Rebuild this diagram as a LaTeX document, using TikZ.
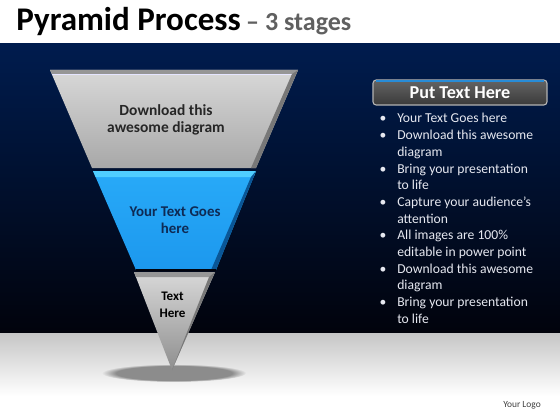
\documentclass[tikz,border=0pt]{standalone}
\usepackage{fontspec}
\setmainfont{Carlito}
\usetikzlibrary{positioning,fadings}

\definecolor{navytop}{RGB}{0,28,78}
\definecolor{navymid}{RGB}{0,19,56}
\definecolor{navybot}{RGB}{1,3,12}
\definecolor{floortop}{RGB}{198,198,198}
\definecolor{greylight}{RGB}{216,216,216}
\definecolor{greydark}{RGB}{168,168,168}
\definecolor{greyside}{RGB}{120,120,120}
\definecolor{greyrim}{RGB}{150,150,150}
\definecolor{bluelight}{RGB}{40,170,248}
\definecolor{bluedark}{RGB}{28,152,238}
\definecolor{blueside}{RGB}{10,86,150}
\definecolor{bluerim}{RGB}{80,206,255}
\definecolor{stagetext}{RGB}{38,38,38}
\definecolor{bluetext}{RGB}{14,42,84}
\definecolor{subgrey}{RGB}{96,96,96}
\definecolor{listwhite}{RGB}{230,232,240}
\definecolor{boxtop}{RGB}{100,100,100}
\definecolor{boxbot}{RGB}{58,58,58}
\definecolor{boxblue}{RGB}{40,140,215}

\tikzset{
    stagelabel/.style={align=center, inner sep=0, text=stagetext, font=\fontsize{11}{12.5}\selectfont\bfseries},
    listline/.style={anchor=base west, inner sep=0, text=listwhite, font=\fontsize{9.7}{11.9}\selectfont},
    listdot/.style={anchor=base, inner sep=0, text=listwhite, font=\fontsize{9.7}{11.9}\selectfont},
}

\begin{document}
\begin{tikzpicture}[x=0.025cm, y=-0.025cm]

    \useasboundingbox (0,0) rectangle (560,420);

    % Background: white title strip, dark blue wall, grey floor
    \fill[white] (0,0) rectangle (560,44);
    \shade[top color=navytop, middle color=navymid, bottom color=navybot] (0,44) rectangle (560,333);
    \shade[top color=floortop, bottom color=white] (0,333) rectangle (560,396);
    \fill[white] (0,395.5) rectangle (560,420);

    % Title
    \node[anchor=base west, inner sep=0, font=\fontsize{23.5}{27}\selectfont\bfseries] (title) at (16,31) {Pyramid Process};
    \node[anchor=base west, inner sep=0, text=subgrey, font=\fontsize{18.5}{21}\selectfont\bfseries] (subtitle) at ([xshift=0.12cm]title.base east) {– 3 stages};

    % Shadow under the tip
    \fill[black!45, path fading=circle with fuzzy edge 20 percent] (174,373) ellipse [x radius=72, y radius=9];

    % Stage 1 (grey)
    \shade[top color=greylight, bottom color=greydark] (50,70) -- (298,70) -- (256,168) -- (92,168) -- cycle;
    \fill[greyrim] (50,70) -- (298,70) -- (296,74) -- (52,74) -- cycle;
    \draw[white!90!blue, line width=0.6pt] (52,74.5) -- (296,74.5);
    \fill[greyside] (298,70) -- (256,168) -- (251,168) -- (292,74) -- cycle;

    % Stage 2 (blue)
    \shade[top color=bluelight, bottom color=bluedark] (93,171) -- (256,171) -- (216,270) -- (136,270) -- cycle;
    \fill[bluerim] (93,171) -- (256,171) -- (253.6,177) -- (95.6,177) -- cycle;
    \fill[blueside] (256,171) -- (216,270) -- (211,270) -- (251,177) -- cycle;
    \draw[navybot, line width=0.8pt] (136,270) -- (216,270);

    % Stage 3 (grey tip)
    \shade[top color=greylight, bottom color=greydark!85!black] (134,272) -- (215,272) -- (172,370) -- cycle;
    \fill[greyrim] (134,272) -- (215,272) -- (212.8,277) -- (135.9,277) -- cycle;
    \fill[greyside] (215,272) -- (172,370) -- (209,277) -- cycle;

    % Stage labels
    \node[stagelabel] (stage1) at (166,120) {Download this\\awesome diagram};
    \node[stagelabel, text=bluetext, font=\fontsize{10.6}{12.5}\selectfont\bfseries] (stage2) at (175,220) {Your Text Goes\\here};
    \node[stagelabel, text=black, font=\fontsize{9.3}{11.8}\selectfont\bfseries] (stage3) at (172.5,305) {Text\\Here};

    % Header box
    \node[draw=gray!60, line width=0.8pt, rounded corners=0.08cm, top color=boxtop, bottom color=boxbot,
          minimum width=4.35cm, minimum height=0.625cm, text=white,
          font=\fontsize{12.9}{15}\selectfont\bfseries] (header) at (460,92.5) {Put Text Here};
    \draw[boxblue, line width=1.5pt] ([xshift=0.1cm, yshift=-0.05cm]header.north west) -- ([xshift=-0.1cm, yshift=-0.05cm]header.north east);

    % Bullet list
    \foreach \txt [count=\k] in {Your Text Goes here, Download this awesome, diagram,
            Bring your presentation, to life, Capture your audience’s, attention,
            All images are 100\%, editable in power point, Download this awesome,
            diagram, Bring your presentation, to life}
        \node[listline] (line\k) at (397, {123+16.67*(\k-1)}) {\txt};
    \foreach \k in {1,2,4,6,8,10,12}
        \node[listdot] (dot\k) at (383, {123+16.67*(\k-1)}) {\textbullet};

    % Logo
    \node[anchor=base west, inner sep=0, text=black!75, font=\fontsize{6.7}{8}\selectfont] (logo) at (503,407) {Your Logo};

\end{tikzpicture}
\end{document}
